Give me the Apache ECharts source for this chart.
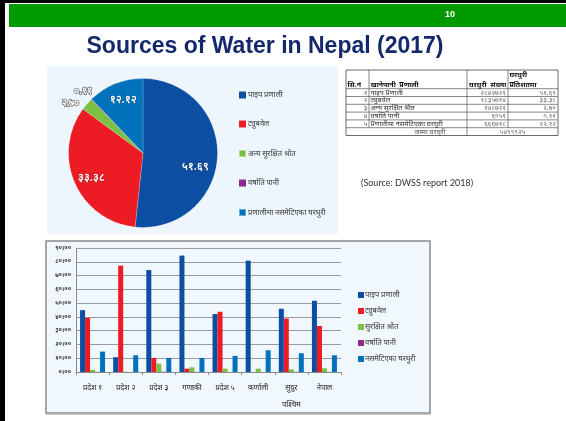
<!DOCTYPE html>
<html>
<head>
<meta charset="utf-8">
<script src="https://cdn.jsdelivr.net/npm/echarts@6/dist/echarts.min.js"></script>
<style>
  html, body { margin: 0; padding: 0; background: #fff; }
  #chart { width: 566px; height: 421px; }
</style>
</head>
<body>
<div id="chart"></div>
<script>
// ---- Data ----
const sourceNames = ['पाइप प्रणाली', 'ट्युबवेल', 'अन्य सुरक्षित श्रोत', 'वर्षाति पानी', 'प्रणालीमा नसमेटिएका घरधुरी'];
const householdCounts = [2842721, 1835714, 148721, 6051, 666718];
const householdPercent = [51.69, 33.38, 2.70, 0.11, 12.12];

const regions = ['प्रदेश १', 'प्रदेश २', 'प्रदेश ३', 'गण्डकी', 'प्रदेश ५', 'कर्णाली', 'सुदुर\nपश्चिम', 'नेपाल'];
const barSeriesNames = ['पाइप प्रणाली', 'ट्युबवेल', 'सुरक्षित श्रोत', 'वर्षाति पानी', 'नसमेटिएका घरधुरी'];
const pipeShare     = [44.9, 10.7, 74.0, 84.5, 42.0, 80.8, 45.9, 51.69];
const tubeShare     = [39.3, 77.2, 10.2, 2.4, 43.7, 0.0, 38.8, 33.38];
const otherShare    = [1.5, 0.2, 6.1, 3.4, 2.4, 2.4, 1.9, 2.70];
const rainShare     = [0.1, 0.0, 0.2, 0.1, 0.0, 0.0, 0.1, 0.11];
const unservedShare = [14.8, 12.1, 10.2, 10.2, 11.7, 15.8, 13.6, 12.12];

const yTicks = [0, 10, 20, 30, 40, 50, 60, 70, 80, 90];

const tableHeaders = ['सि.नं', 'खानेपानी  प्रणाली', 'घरधुरी  संख्या', 'घरधुरी\nप्रतिशतमा'];
const tableTotalLabel = 'जम्मा घरधुरी';

const palette = ['#0b4ea2', '#ed1c24', '#7ac143', '#92278f', '#0072bc'];

// ---- Helpers ----
const devDigits = '०१२३४५६७८९';
function toDev(s) {
  return String(s).replace(/[0-9]/g, d => devDigits[+d]);
}
const devFont = '"Noto Sans", "Noto Sans Devanagari", "Lohit Devanagari", sans-serif';

// ---- Slide frame, title, panels ----
const graphics = [
  { type: 'rect', shape: { x: 0, y: 0, width: 566, height: 3 }, style: { fill: '#000' } },
  { type: 'rect', shape: { x: 0, y: 0, width: 5, height: 421 }, style: { fill: '#000' } },
  { type: 'rect', shape: { x: 9, y: 4, width: 557, height: 23 }, style: { fill: '#009900' } },
  { type: 'text', x: 450, y: 15, style: { text: '10', fill: '#fff', font: 'bold 9px "Liberation Sans", Arial', align: 'center', verticalAlign: 'middle' } },
  { type: 'text', x: 265, y: 47, style: { text: 'Sources of Water in Nepal (2017)', fill: '#14296b', font: 'bold 23px "Liberation Sans", Arial', align: 'center', verticalAlign: 'middle' } },
  // pie panel background
  { type: 'rect', shape: { x: 47, y: 66, width: 291, height: 168 }, style: { fill: '#eef6fd' } },
  // bar chart panel
  { type: 'rect', shape: { x: 46, y: 241, width: 384, height: 172 }, style: { fill: '#f0f7fd', stroke: '#8a8a8a', lineWidth: 1.5 } },
  { type: 'line', shape: { x1: 46, y1: 414, x2: 431, y2: 414 }, style: { stroke: '#b0b0b0', lineWidth: 1.5 } },
  { type: 'text', x: 361, y: 183, style: { text: '(Source: DWSS report 2018)', fill: '#333', font: '9px Lato, "Open Sans", sans-serif', verticalAlign: 'middle' } }
];

// ---- Household table ----
(function buildTable() {
  const colX = [346, 369, 467, 508, 558];
  const top = 70, headBottom = 88.7, rowH = 7.8;
  const nRows = sourceNames.length;
  const lineStyle = { stroke: '#555', lineWidth: 0.7 };
  const rowsBottom = headBottom + rowH * nRows;
  const bottom = rowsBottom + rowH;
  graphics.push({ type: 'rect', shape: { x: colX[0], y: top, width: colX[4] - colX[0], height: bottom - top }, style: { fill: '#fff', stroke: '#444', lineWidth: 0.8 } });
  // horizontal rules
  for (let i = 0; i <= nRows; i++) {
    const y = headBottom + rowH * i;
    graphics.push({ type: 'line', shape: { x1: colX[0], y1: y, x2: colX[4], y2: y }, style: lineStyle });
  }
  // vertical rules (total row merges first two and last two columns)
  colX.slice(1, 4).forEach((x, i) => {
    const yEnd = (i === 1) ? bottom : rowsBottom;
    graphics.push({ type: 'line', shape: { x1: x, y1: top, x2: x, y2: yEnd }, style: lineStyle });
  });
  const hFont = 'bold 7px ' + devFont;
  const cFont = '7px ' + devFont;
  graphics.push({ type: 'text', x: colX[0] + 1.5, y: headBottom - 4, style: { text: tableHeaders[0], font: hFont, fill: '#111', verticalAlign: 'middle' } });
  graphics.push({ type: 'text', x: colX[1] + 1.5, y: headBottom - 4, style: { text: tableHeaders[1], font: hFont, fill: '#111', verticalAlign: 'middle' } });
  graphics.push({ type: 'text', x: colX[2] + 2, y: headBottom - 4, style: { text: tableHeaders[2], font: hFont, fill: '#111', verticalAlign: 'middle' } });
  graphics.push({ type: 'text', x: colX[3] + 1.5, y: headBottom - 9, style: { text: tableHeaders[3], font: hFont, fill: '#111', verticalAlign: 'middle', lineHeight: 10 } });
  for (let i = 0; i < nRows; i++) {
    const cy = headBottom + rowH * i + rowH / 2;
    graphics.push({ type: 'text', x: colX[1] - 1.5, y: cy, style: { text: toDev(i + 1), font: cFont, fill: '#555', align: 'right', verticalAlign: 'middle' } });
    graphics.push({ type: 'text', x: colX[1] + 1.5, y: cy, style: { text: sourceNames[i], font: cFont, fill: '#333', verticalAlign: 'middle' } });
    graphics.push({ type: 'text', x: colX[3] - 2, y: cy, style: { text: toDev(householdCounts[i]), font: cFont, fill: '#666', align: 'right', verticalAlign: 'middle' } });
    graphics.push({ type: 'text', x: colX[4] - 2, y: cy, style: { text: toDev(householdPercent[i].toFixed(2)), font: cFont, fill: '#666', align: 'right', verticalAlign: 'middle' } });
  }
  const total = householdCounts.reduce((a, b) => a + b, 0);
  const ty = rowsBottom + rowH / 2;
  graphics.push({ type: 'text', x: 430, y: ty, style: { text: tableTotalLabel, font: cFont, fill: '#555', align: 'center', verticalAlign: 'middle' } });
  graphics.push({ type: 'text', x: (colX[2] + colX[4]) / 2, y: ty, style: { text: toDev(total), font: cFont, fill: '#666', align: 'center', verticalAlign: 'middle' } });
})();

// ---- Pie label placement tweaks ----
const pieLabelTweaks = [
  { offset: [12, 12] },
  { offset: [-15, 9] },
  { shift: [1, 1], outer: true },
  { shift: [9, -7], outer: true },
  { offset: [-5, -16] }
];

const pieData = sourceNames.map((name, i) => {
  const t = pieLabelTweaks[i];
  return {
    name,
    value: householdPercent[i],
    itemStyle: { color: palette[i] },
    label: t.outer
      ? { position: 'outside', fontSize: 10, color: '#fff', textBorderColor: '#666', textBorderWidth: 1.5, fontWeight: 'bold' }
      : { position: 'inside', offset: t.offset, fontSize: 11, color: '#fff', textBorderColor: 'rgba(0,0,0,0.35)', textBorderWidth: 0.8, fontWeight: 'bold' },
    labelLine: { show: false, length: 2, length2: 2 }
  };
});

const barData = [pipeShare, tubeShare, otherShare, rainShare, unservedShare];

const chart = echarts.init(document.getElementById('chart'), null, { renderer: 'canvas' });
chart.setOption({
  animation: false,
  backgroundColor: 'transparent',
  graphic: graphics,
  legend: [
    {
      data: sourceNames,
      orient: 'vertical',
      left: 233, top: 86,
      icon: 'rect', itemWidth: 7, itemHeight: 7, itemGap: 21,
      textStyle: { fontSize: 7.5, color: '#333', fontFamily: devFont, padding: [0, 0, 0, -3] },
      selectedMode: false
    },
    {
      data: barSeriesNames,
      orient: 'vertical',
      left: 353, top: 286,
      icon: 'rect', itemWidth: 6, itemHeight: 6, itemGap: 8,
      textStyle: { fontSize: 7.5, color: '#333', fontFamily: devFont, padding: [0, 0, 0, -4] },
      selectedMode: false
    }
  ],
  grid: { left: 76, right: 225, top: 248, bottom: 49 },
  xAxis: {
    type: 'category',
    data: regions,
    axisLine: { lineStyle: { color: '#8a8a8a' } },
    axisTick: { show: true, length: 3, lineStyle: { color: '#8a8a8a' } },
    axisLabel: { fontSize: 7.5, color: '#222', margin: 7, lineHeight: 17, fontFamily: devFont, interval: 0 }
  },
  yAxis: {
    type: 'value',
    min: yTicks[0], max: yTicks[yTicks.length - 1], interval: 10,
    axisLine: { show: true, lineStyle: { color: '#8a8a8a' } },
    axisTick: { show: false },
    splitLine: { lineStyle: { color: '#9a9a9a', width: 1 } },
    axisLabel: { fontSize: 6, fontWeight: 'bold', color: '#333', margin: 5, fontFamily: devFont,
      formatter: v => toDev(v) + '।००' }
  },
  series: [
    {
      type: 'pie',
      name: 'घरधुरी प्रतिशत',
      center: [143, 153],
      radius: 74.5,
      startAngle: 90,
      clockwise: true,
      avoidLabelOverlap: false,
      label: { formatter: p => toDev(p.value.toFixed(2)) },
      labelLayout: params => {
        const t = pieLabelTweaks[params.dataIndex];
        return t.outer ? { dx: t.shift[0], dy: t.shift[1], hideOverlap: false } : {};
      },
      itemStyle: { borderColor: 'rgba(255,255,255,0.4)', borderWidth: 0.5 },
      data: pieData
    },
    ...barSeriesNames.map((name, i) => ({
      type: 'bar',
      name,
      data: barData[i],
      barWidth: 5,
      barGap: '0%',
      itemStyle: { color: palette[i] }
    }))
  ]
});
</script>
</body>
</html>
